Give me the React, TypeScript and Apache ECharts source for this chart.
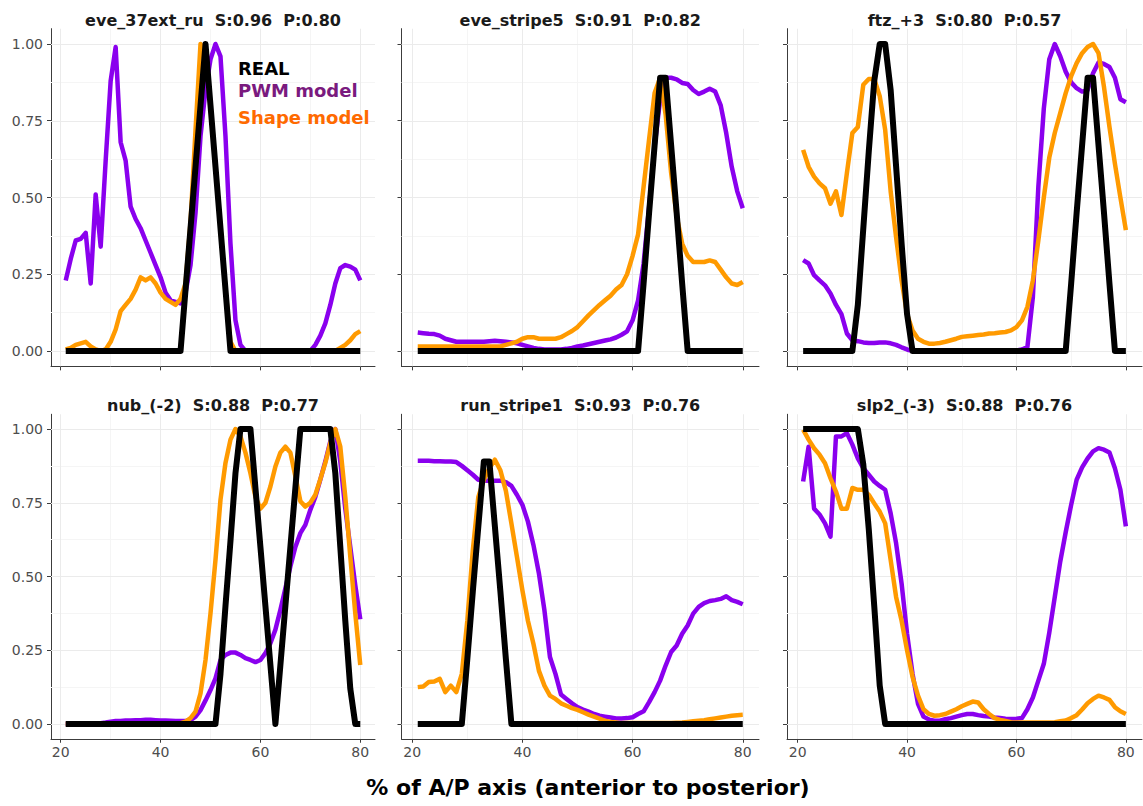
import React, { useEffect, useRef } from "react";
import * as echarts from "echarts";

// x positions along the A/P axis (%)
const AP = [
  21, 22, 23, 24, 25, 26, 27, 28, 29, 30,
  31, 32, 33, 34, 35, 36, 37, 38, 39, 40,
  41, 42, 43, 44, 45, 46, 47, 48, 49, 50,
  51, 52, 53, 54, 55, 56, 57, 58, 59, 60,
  61, 62, 63, 64, 65, 66, 67, 68, 69, 70,
  71, 72, 73, 74, 75, 76, 77, 78, 79, 80,
];

const PANEL_TITLES = [
  "eve_37ext_ru  S:0.96  P:0.80",
  "eve_stripe5  S:0.91  P:0.82",
  "ftz_+3  S:0.80  P:0.57",
  "nub_(-2)  S:0.88  P:0.77",
  "run_stripe1  S:0.93  P:0.76",
  "slp2_(-3)  S:0.88  P:0.76",
];

// ---- eve_37ext_ru ----
const REAL_EVE37 = [
  0, 0, 0, 0, 0, 0, 0, 0, 0, 0,
  0, 0, 0, 0, 0, 0, 0, 0, 0, 0,
  0, 0, 0, 0, 0.2, 0.4, 0.6, 0.8, 1.0, 0.8,
  0.6, 0.4, 0.2, 0, 0, 0, 0, 0, 0, 0,
  0, 0, 0, 0, 0, 0, 0, 0, 0, 0,
  0, 0, 0, 0, 0, 0, 0, 0, 0, 0,
];
const PWM_EVE37 = [
  0.23, 0.3, 0.36, 0.365, 0.385, 0.22, 0.51, 0.34, 0.62, 0.88,
  0.99, 0.68, 0.62, 0.47, 0.43, 0.4, 0.36, 0.32, 0.28, 0.24,
  0.19, 0.165, 0.16, 0.155, 0.19, 0.28, 0.45, 0.7, 0.85, 0.95,
  1.0, 0.96, 0.7, 0.35, 0.1, 0.02, 0, 0, 0, 0,
  0, 0, 0, 0, 0, 0, 0, 0, 0, 0,
  0.02, 0.05, 0.09, 0.15, 0.22, 0.27, 0.28, 0.275, 0.265, 0.23,
];
const SHAPE_EVE37 = [
  0.005, 0.01, 0.02, 0.025, 0.03, 0.015, 0.005, 0, 0.005, 0.03,
  0.07, 0.13, 0.15, 0.17, 0.2, 0.24, 0.23, 0.24, 0.22, 0.19,
  0.17, 0.16, 0.15, 0.17, 0.22, 0.42, 0.72, 1.0, 0.97, 0.8,
  0.6, 0.4, 0.2, 0.03, 0, 0, 0, 0, 0, 0,
  0, 0, 0, 0, 0, 0, 0, 0, 0, 0,
  0, 0, 0, 0, 0, 0.01, 0.02, 0.035, 0.055, 0.065,
];

// ---- eve_stripe5 ----
const REAL_STRIPE5 = [
  0, 0, 0, 0, 0, 0, 0, 0, 0, 0,
  0, 0, 0, 0, 0, 0, 0, 0, 0, 0,
  0, 0, 0, 0, 0, 0, 0, 0, 0, 0,
  0, 0, 0, 0, 0, 0, 0, 0, 0, 0,
  0, 0.22, 0.45, 0.67, 0.89, 0.89, 0.67, 0.45, 0.22, 0,
  0, 0, 0, 0, 0, 0, 0, 0, 0, 0,
];
const PWM_STRIPE5 = [
  0.06, 0.058, 0.056, 0.055, 0.05, 0.04, 0.035, 0.03, 0.03, 0.03,
  0.03, 0.03, 0.03, 0.032, 0.033, 0.032, 0.03, 0.028, 0.025, 0.02,
  0.015, 0.01, 0.007, 0.005, 0.005, 0.005, 0.005, 0.007, 0.01, 0.015,
  0.018, 0.022, 0.026, 0.03, 0.034, 0.038, 0.044, 0.053, 0.064, 0.1,
  0.165, 0.285, 0.47, 0.666, 0.82, 0.89, 0.89, 0.885, 0.873, 0.87,
  0.85, 0.837, 0.845, 0.854, 0.845, 0.8, 0.71, 0.6, 0.52, 0.465,
];
const SHAPE_STRIPE5 = [
  0.015, 0.015, 0.015, 0.015, 0.015, 0.015, 0.015, 0.015, 0.015, 0.015,
  0.015, 0.015, 0.015, 0.015, 0.015, 0.015, 0.02, 0.025, 0.03, 0.04,
  0.045, 0.045, 0.04, 0.04, 0.04, 0.04, 0.045, 0.055, 0.065, 0.078,
  0.097, 0.116, 0.133, 0.15, 0.165, 0.18, 0.2, 0.215, 0.25, 0.31,
  0.38, 0.535, 0.69, 0.84, 0.89, 0.77, 0.58, 0.44, 0.35, 0.31,
  0.29, 0.29, 0.29, 0.295, 0.29, 0.265, 0.24, 0.22, 0.215, 0.225,
];

// ---- ftz_+3 ----
const REAL_FTZ = [
  0, 0, 0, 0, 0, 0, 0, 0, 0, 0,
  0.15, 0.4, 0.65, 0.88, 1.0, 1.0, 0.85, 0.6, 0.35, 0.12,
  0, 0, 0, 0, 0, 0, 0, 0, 0, 0,
  0, 0, 0, 0, 0, 0, 0, 0, 0, 0,
  0, 0, 0, 0, 0, 0, 0, 0, 0, 0.22,
  0.45, 0.67, 0.89, 0.89, 0.67, 0.45, 0.22, 0, 0, 0,
];
const PWM_FTZ = [
  0.296, 0.285, 0.247, 0.23, 0.214, 0.187, 0.15, 0.12, 0.057, 0.035,
  0.032, 0.028, 0.026, 0.026, 0.028, 0.028, 0.025, 0.02, 0.012, 0.005,
  0, 0, 0, 0, 0, 0, 0, 0, 0, 0,
  0, 0, 0, 0, 0, 0, 0, 0, 0, 0.002,
  0.005, 0.013, 0.176, 0.535, 0.79, 0.95, 1.0, 0.96, 0.91, 0.875,
  0.856, 0.845, 0.85, 0.905, 0.94, 0.935, 0.925, 0.89, 0.82, 0.81,
];
const SHAPE_FTZ = [
  0.655, 0.6, 0.568, 0.546, 0.53, 0.48, 0.52, 0.443, 0.58, 0.71,
  0.73, 0.867, 0.886, 0.886, 0.83, 0.72, 0.52, 0.37, 0.23, 0.12,
  0.067, 0.04, 0.03, 0.024, 0.024, 0.026, 0.03, 0.035, 0.04, 0.046,
  0.048, 0.05, 0.052, 0.054, 0.057, 0.058, 0.06, 0.062, 0.067, 0.078,
  0.1, 0.144, 0.23, 0.36, 0.5, 0.63, 0.71, 0.775, 0.84, 0.895,
  0.938, 0.97, 0.99, 1.0, 0.97, 0.86, 0.73, 0.61, 0.5, 0.394,
];

// ---- nub_(-2) ----
const REAL_NUB = [
  0, 0, 0, 0, 0, 0, 0, 0, 0, 0,
  0, 0, 0, 0, 0, 0, 0, 0, 0, 0,
  0, 0, 0, 0, 0, 0, 0, 0, 0, 0,
  0, 0.17, 0.4, 0.62, 0.85, 1, 1, 1, 0.8, 0.6,
  0.4, 0.2, 0, 0.2, 0.4, 0.6, 0.8, 1, 1, 1,
  1, 1, 1, 1, 0.85, 0.6, 0.35, 0.12, 0, 0,
];
const PWM_NUB = [
  0, 0, 0, 0, 0, 0, 0, 0.003, 0.005, 0.008,
  0.01, 0.01, 0.012, 0.012, 0.013, 0.013, 0.014, 0.014, 0.013, 0.012,
  0.012, 0.011, 0.01, 0.01, 0.01, 0.013, 0.025, 0.047, 0.08, 0.115,
  0.155, 0.217, 0.234, 0.242, 0.242, 0.234, 0.223, 0.217, 0.21, 0.217,
  0.24, 0.274, 0.32, 0.387, 0.46, 0.534, 0.6, 0.647, 0.675, 0.726,
  0.77, 0.828, 0.89, 0.958, 1.0, 0.89, 0.73, 0.6, 0.47, 0.355,
];
const SHAPE_NUB = [
  0, 0, 0, 0, 0, 0, 0, 0, 0, 0,
  0, 0, 0, 0, 0, 0, 0, 0, 0, 0,
  0, 0, 0, 0.003, 0.008, 0.02, 0.042, 0.104, 0.217, 0.375,
  0.557, 0.76, 0.885, 0.964, 1.0, 0.975, 0.92, 0.85, 0.77, 0.73,
  0.75, 0.805, 0.873, 0.92, 0.94, 0.92, 0.84, 0.755, 0.737, 0.75,
  0.777, 0.83, 0.885, 0.953, 1.0, 0.94, 0.77, 0.568, 0.375, 0.2,
];

// ---- run_stripe1 ----
const REAL_RUN = [
  0, 0, 0, 0, 0, 0, 0, 0, 0, 0.22,
  0.45, 0.67, 0.89, 0.89, 0.67, 0.45, 0.22, 0, 0, 0,
  0, 0, 0, 0, 0, 0, 0, 0, 0, 0,
  0, 0, 0, 0, 0, 0, 0, 0, 0, 0,
  0, 0, 0, 0, 0, 0, 0, 0, 0, 0,
  0, 0, 0, 0, 0, 0, 0, 0, 0, 0,
];
const PWM_RUN = [
  0.892, 0.892, 0.892, 0.891, 0.891, 0.89, 0.89, 0.888, 0.875, 0.86,
  0.845, 0.828, 0.825, 0.825, 0.825, 0.825, 0.82, 0.807, 0.777, 0.743,
  0.686, 0.607, 0.51, 0.385, 0.227, 0.17, 0.1, 0.085, 0.07, 0.057,
  0.049, 0.042, 0.034, 0.028, 0.025, 0.022, 0.019, 0.019, 0.02, 0.023,
  0.034, 0.043, 0.074, 0.108, 0.147, 0.198, 0.244, 0.266, 0.306, 0.334,
  0.374, 0.397, 0.41, 0.417, 0.42, 0.424, 0.433, 0.42, 0.414, 0.406,
];
const SHAPE_RUN = [
  0.125, 0.127, 0.142, 0.144, 0.153, 0.108, 0.13, 0.108, 0.17, 0.35,
  0.59, 0.77, 0.828, 0.867, 0.896, 0.86, 0.79, 0.68, 0.567, 0.453,
  0.35, 0.272, 0.18, 0.13, 0.096, 0.085, 0.07, 0.062, 0.054, 0.048,
  0.04, 0.032, 0.025, 0.018, 0.011, 0.007, 0.005, 0.003, 0.003, 0.003,
  0.003, 0.003, 0.003, 0.003, 0.003, 0.003, 0.003, 0.004, 0.005, 0.007,
  0.009, 0.011, 0.013, 0.016, 0.019, 0.022, 0.025, 0.028, 0.03, 0.031,
];

// ---- slp2_(-3) ----
const REAL_SLP2 = [
  1, 1, 1, 1, 1, 1, 1, 1, 1, 1,
  1, 0.88, 0.66, 0.4, 0.13, 0, 0, 0, 0, 0,
  0, 0, 0, 0, 0, 0, 0, 0, 0, 0,
  0, 0, 0, 0, 0, 0, 0, 0, 0, 0,
  0, 0, 0, 0, 0, 0, 0, 0, 0, 0,
  0, 0, 0, 0, 0, 0, 0, 0, 0, 0,
];
const PWM_SLP2 = [
  0.822, 0.94, 0.73, 0.71, 0.68, 0.635, 0.975, 0.975, 0.986, 0.947,
  0.9, 0.867, 0.845, 0.822, 0.807, 0.794, 0.714, 0.612, 0.476, 0.306,
  0.17, 0.068, 0.025, 0.015, 0.011, 0.011, 0.016, 0.02, 0.025, 0.03,
  0.034, 0.034, 0.03, 0.027, 0.025, 0.022, 0.02, 0.018, 0.017, 0.018,
  0.02, 0.05, 0.09, 0.147, 0.204, 0.31, 0.43, 0.55, 0.65, 0.743,
  0.828, 0.87, 0.9, 0.924, 0.935, 0.93, 0.92, 0.867, 0.794, 0.67,
];
const SHAPE_SLP2 = [
  0.998, 0.964, 0.935, 0.913, 0.884, 0.833, 0.788, 0.73, 0.73, 0.8,
  0.794, 0.794, 0.777, 0.748, 0.72, 0.68, 0.556, 0.43, 0.35, 0.25,
  0.16, 0.096, 0.05, 0.034, 0.028, 0.03, 0.034, 0.042, 0.05, 0.06,
  0.068, 0.076, 0.073, 0.05, 0.034, 0.02, 0.014, 0.01, 0.006, 0.005,
  0.005, 0.005, 0.005, 0.005, 0.005, 0.005, 0.006, 0.009, 0.012, 0.02,
  0.03, 0.049, 0.07, 0.085, 0.096, 0.09, 0.082, 0.057, 0.043, 0.034,
];

const REAL_SERIES = [REAL_EVE37, REAL_STRIPE5, REAL_FTZ, REAL_NUB, REAL_RUN, REAL_SLP2];
const PWM_SERIES = [PWM_EVE37, PWM_STRIPE5, PWM_FTZ, PWM_NUB, PWM_RUN, PWM_SLP2];
const SHAPE_SERIES = [SHAPE_EVE37, SHAPE_STRIPE5, SHAPE_FTZ, SHAPE_NUB, SHAPE_RUN, SHAPE_SLP2];

const X_TICKS = [20, 40, 60, 80];
const X_MINOR = [30, 50, 70];
const Y_TICKS = [0, 0.25, 0.5, 0.75, 1];
const Y_MINOR = [0.125, 0.375, 0.625, 0.875];
const X_MIN = 18.05;
const X_MAX = 82.95;
const Y_MIN = -0.05;
const Y_MAX = 1.05;

const LEGEND_LABELS = ["REAL", "PWM model", "Shape model"];
const X_TITLE = "% of A/P axis (anterior to posterior)";

// layout (pixels)
const ROWS = [
  { top: 28.65, height: 337.7, titleY: 20 },
  { top: 414.25, height: 324.5, titleY: 405 },
];
const COLS = [
  { left: 51, width: 324 },
  { left: 401.5, width: 357.5 },
  { left: 787, width: 355 },
];

const FONT = '"DejaVu Sans", "Liberation Sans", sans-serif';
const COLOR_REAL = "#000000";
const COLOR_PWM = "#8a00ee";
const COLOR_SHAPE = "#ff9a00";
const AXIS_COLOR = "#3c3c3c";
const LABEL_COLOR = "#4d4d4d";

function buildOption() {
  const grids: any[] = [];
  const xAxes: any[] = [];
  const yAxes: any[] = [];
  const series: any[] = [];
  const graphics: any[] = [];

  for (let i = 0; i < 6; i++) {
    const r = Math.floor(i / 3);
    const c = i % 3;
    const row = ROWS[r];
    const col = COLS[c];
    grids.push({
      left: col.left,
      top: row.top,
      width: col.width,
      height: row.height,
      containLabel: false,
      outerBoundsMode: "none",
    });
    xAxes.push({
      gridIndex: i,
      type: "value",
      min: X_MIN,
      max: X_MAX,
      axisLine: { show: true, onZero: false, lineStyle: { color: AXIS_COLOR, width: 1 } },
      axisTick: { show: true, customValues: X_TICKS, length: 4, lineStyle: { color: AXIS_COLOR, width: 1 } },
      axisLabel: {
        show: r === 1,
        customValues: X_TICKS,
        margin: 6,
        color: LABEL_COLOR,
        fontSize: 14,
        fontFamily: FONT,
        formatter: (v: number) => String(v),
      },
      splitLine: { show: false },
    });
    yAxes.push({
      gridIndex: i,
      type: "value",
      min: Y_MIN,
      max: Y_MAX,
      axisLine: { show: true, onZero: false, lineStyle: { color: AXIS_COLOR, width: 1 } },
      axisTick: { show: true, customValues: Y_TICKS, length: 4, lineStyle: { color: AXIS_COLOR, width: 1 } },
      axisLabel: {
        show: c === 0,
        customValues: Y_TICKS,
        margin: 8,
        color: LABEL_COLOR,
        fontSize: 14,
        fontFamily: FONT,
        formatter: (v: number) => v.toFixed(2),
      },
      splitLine: { show: false },
    });

    const major = { color: "#ebebeb", width: 1, opacity: 1, curveness: 0 };
    const minor = { color: "#f5f5f5", width: 1, opacity: 1, curveness: 0 };
    const gridData = [
      ...X_MINOR.map((v) => ({ coords: [[v, Y_MIN], [v, Y_MAX]], lineStyle: minor })),
      ...Y_MINOR.map((v) => ({ coords: [[X_MIN, v], [X_MAX, v]], lineStyle: minor })),
      ...X_TICKS.map((v) => ({ coords: [[v, Y_MIN], [v, Y_MAX]], lineStyle: major })),
      ...Y_TICKS.map((v) => ({ coords: [[X_MIN, v], [X_MAX, v]], lineStyle: major })),
    ];
    series.push({
      type: "lines",
      coordinateSystem: "cartesian2d",
      xAxisIndex: i,
      yAxisIndex: i,
      silent: true,
      z: 1,
      symbol: ["none", "none"],
      lineStyle: { opacity: 1, width: 1, curveness: 0 },
      data: gridData,
    });

    const mk = (arr: number[], color: string, width: number, z: number) => ({
      type: "line",
      xAxisIndex: i,
      yAxisIndex: i,
      data: AP.map((x, k) => [x, arr[k]]),
      showSymbol: false,
      symbol: "none",
      smooth: false,
      silent: true,
      z,
      lineStyle: { color, width, join: "round", cap: "butt" },
    });
    series.push(mk(PWM_SERIES[i], COLOR_PWM, 4.5, 2));
    series.push(mk(SHAPE_SERIES[i], COLOR_SHAPE, 4.5, 3));
    series.push(mk(REAL_SERIES[i], COLOR_REAL, 6, 4));

    graphics.push({
      type: "text",
      x: col.left + col.width / 2,
      y: row.titleY,
      silent: true,
      style: {
        text: PANEL_TITLES[i],
        fill: "#1a1a1a",
        font: `bold 16px ${FONT}`,
        textAlign: "center",
        textVerticalAlign: "middle",
      },
    });
  }

  const legendColors = [COLOR_REAL, "#7a1a7e", "#ff6a00"];
  const legendY = [68.5, 90, 117];
  LEGEND_LABELS.forEach((t, k) => {
    graphics.push({
      type: "text",
      x: 238,
      y: legendY[k],
      silent: true,
      z: 10,
      style: {
        text: t,
        fill: legendColors[k],
        font: `bold 18px ${FONT}`,
        textAlign: "left",
        textVerticalAlign: "middle",
      },
    });
  });

  graphics.push({
    type: "text",
    x: 588,
    y: 787,
    silent: true,
    style: {
      text: X_TITLE,
      fill: "#000",
      font: `bold 22px ${FONT}`,
      textAlign: "center",
      textVerticalAlign: "middle",
    },
  });

  return {
    animation: false,
    backgroundColor: "#ffffff",
    grid: grids,
    xAxis: xAxes,
    yAxis: yAxes,
    series,
    graphic: graphics,
  };
}

export default function App() {
  const ref = useRef<HTMLDivElement>(null);
  useEffect(() => {
    if (!ref.current) return;
    const chart = echarts.init(ref.current, null, { renderer: "svg" });
    chart.setOption(buildOption() as any);
    return () => {
      chart.dispose();
    };
  }, []);
  return (
    <div
      ref={ref}
      style={{ position: "absolute", left: 0, top: 0, width: 1143, height: 806, background: "#fff" }}
    />
  );
}
